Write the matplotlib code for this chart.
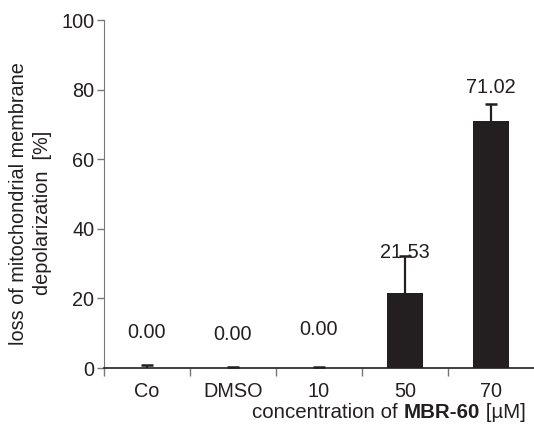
import matplotlib
matplotlib.use("Agg")
import matplotlib.pyplot as plt

plt.rcParams['font.family'] = ['Liberation Sans', 'DejaVu Sans']
fs = 14.3

categories = ["Co", "DMSO", "10", "50", "70"]
means = [0.0, 0.0, 0.0, 21.53, 71.02]
errors = [0.8, 0.4, 0.4, 10.6, 4.9]
value_labels = ["0.00", "0.00", "0.00", "21.53", "71.02"]
label_y = [10.3, 9.5, 11.2, 33.3, 80.5]

ink = "#231f20"

fig = plt.figure(figsize=(5.34, 4.32), dpi=100)
ax = fig.add_axes([104/534, 1 - 368/432, 1 - 104/534, 348/432])

x = list(range(len(categories)))
tops = [m + e for m, e in zip(means, errors)]
ax.bar(x, means, width=0.42, color=ink, zorder=2)
ax.vlines(x, means, tops, color=ink, lw=1.6, zorder=3)
ax.plot(x, tops, ls="none", marker="_", ms=8.6, mew=1.8, color=ink, zorder=3)

for xi, lab, ly in zip(x, value_labels, label_y):
    ax.text(xi, ly, lab, ha="center", va="center", color=ink, fontsize=fs, zorder=4)

ax.set_xlim(-0.5, 4.5)
ax.set_ylim(0, 100)
ax.set_yticks([0, 20, 40, 60, 80, 100])
ax.set_xticks(x)
ax.set_xticklabels(categories, fontsize=fs)
ax.set_xticks([-0.5, 0.5, 1.5, 2.5, 3.5], minor=True)

ax.tick_params(axis="x", which="major", length=0, pad=10, colors=ink)
ax.tick_params(axis="x", which="minor", length=6, width=1, color="#777777")
ax.tick_params(axis="y", length=5, width=1, color="#777777", pad=2,
               labelcolor=ink, labelsize=fs)

for s in ["top", "right"]:
    ax.spines[s].set_visible(False)
ax.spines["left"].set_color("#777777")
ax.spines["bottom"].set_color(ink)
ax.spines["bottom"].set_linewidth(1.2)

# y label, two centred lines
fig.text(18.5/534, 1 - 204/432, "loss of mitochondrial membrane",
         rotation=90, ha="center", va="center", color=ink, fontsize=fs)
fig.text(42.5/534, 1 - 213/432, "depolarization  [%]",
         rotation=90, ha="center", va="center", color=ink, fontsize=fs)

xfs = 14.8
t1 = fig.text(252/534, 1 - 418/432, "concentration of ", color=ink, fontsize=xfs,
              ha="left", va="baseline")
t2 = ax.annotate("MBR-60", xy=(1, 0), xycoords=t1, va="bottom", ha="left",
                 fontweight="bold", color=ink, fontsize=xfs)
ax.annotate(" [µM]", xy=(1, 0), xycoords=t2, va="bottom", ha="left",
            color=ink, fontsize=xfs)

fig.savefig("out.png", dpi=100)
